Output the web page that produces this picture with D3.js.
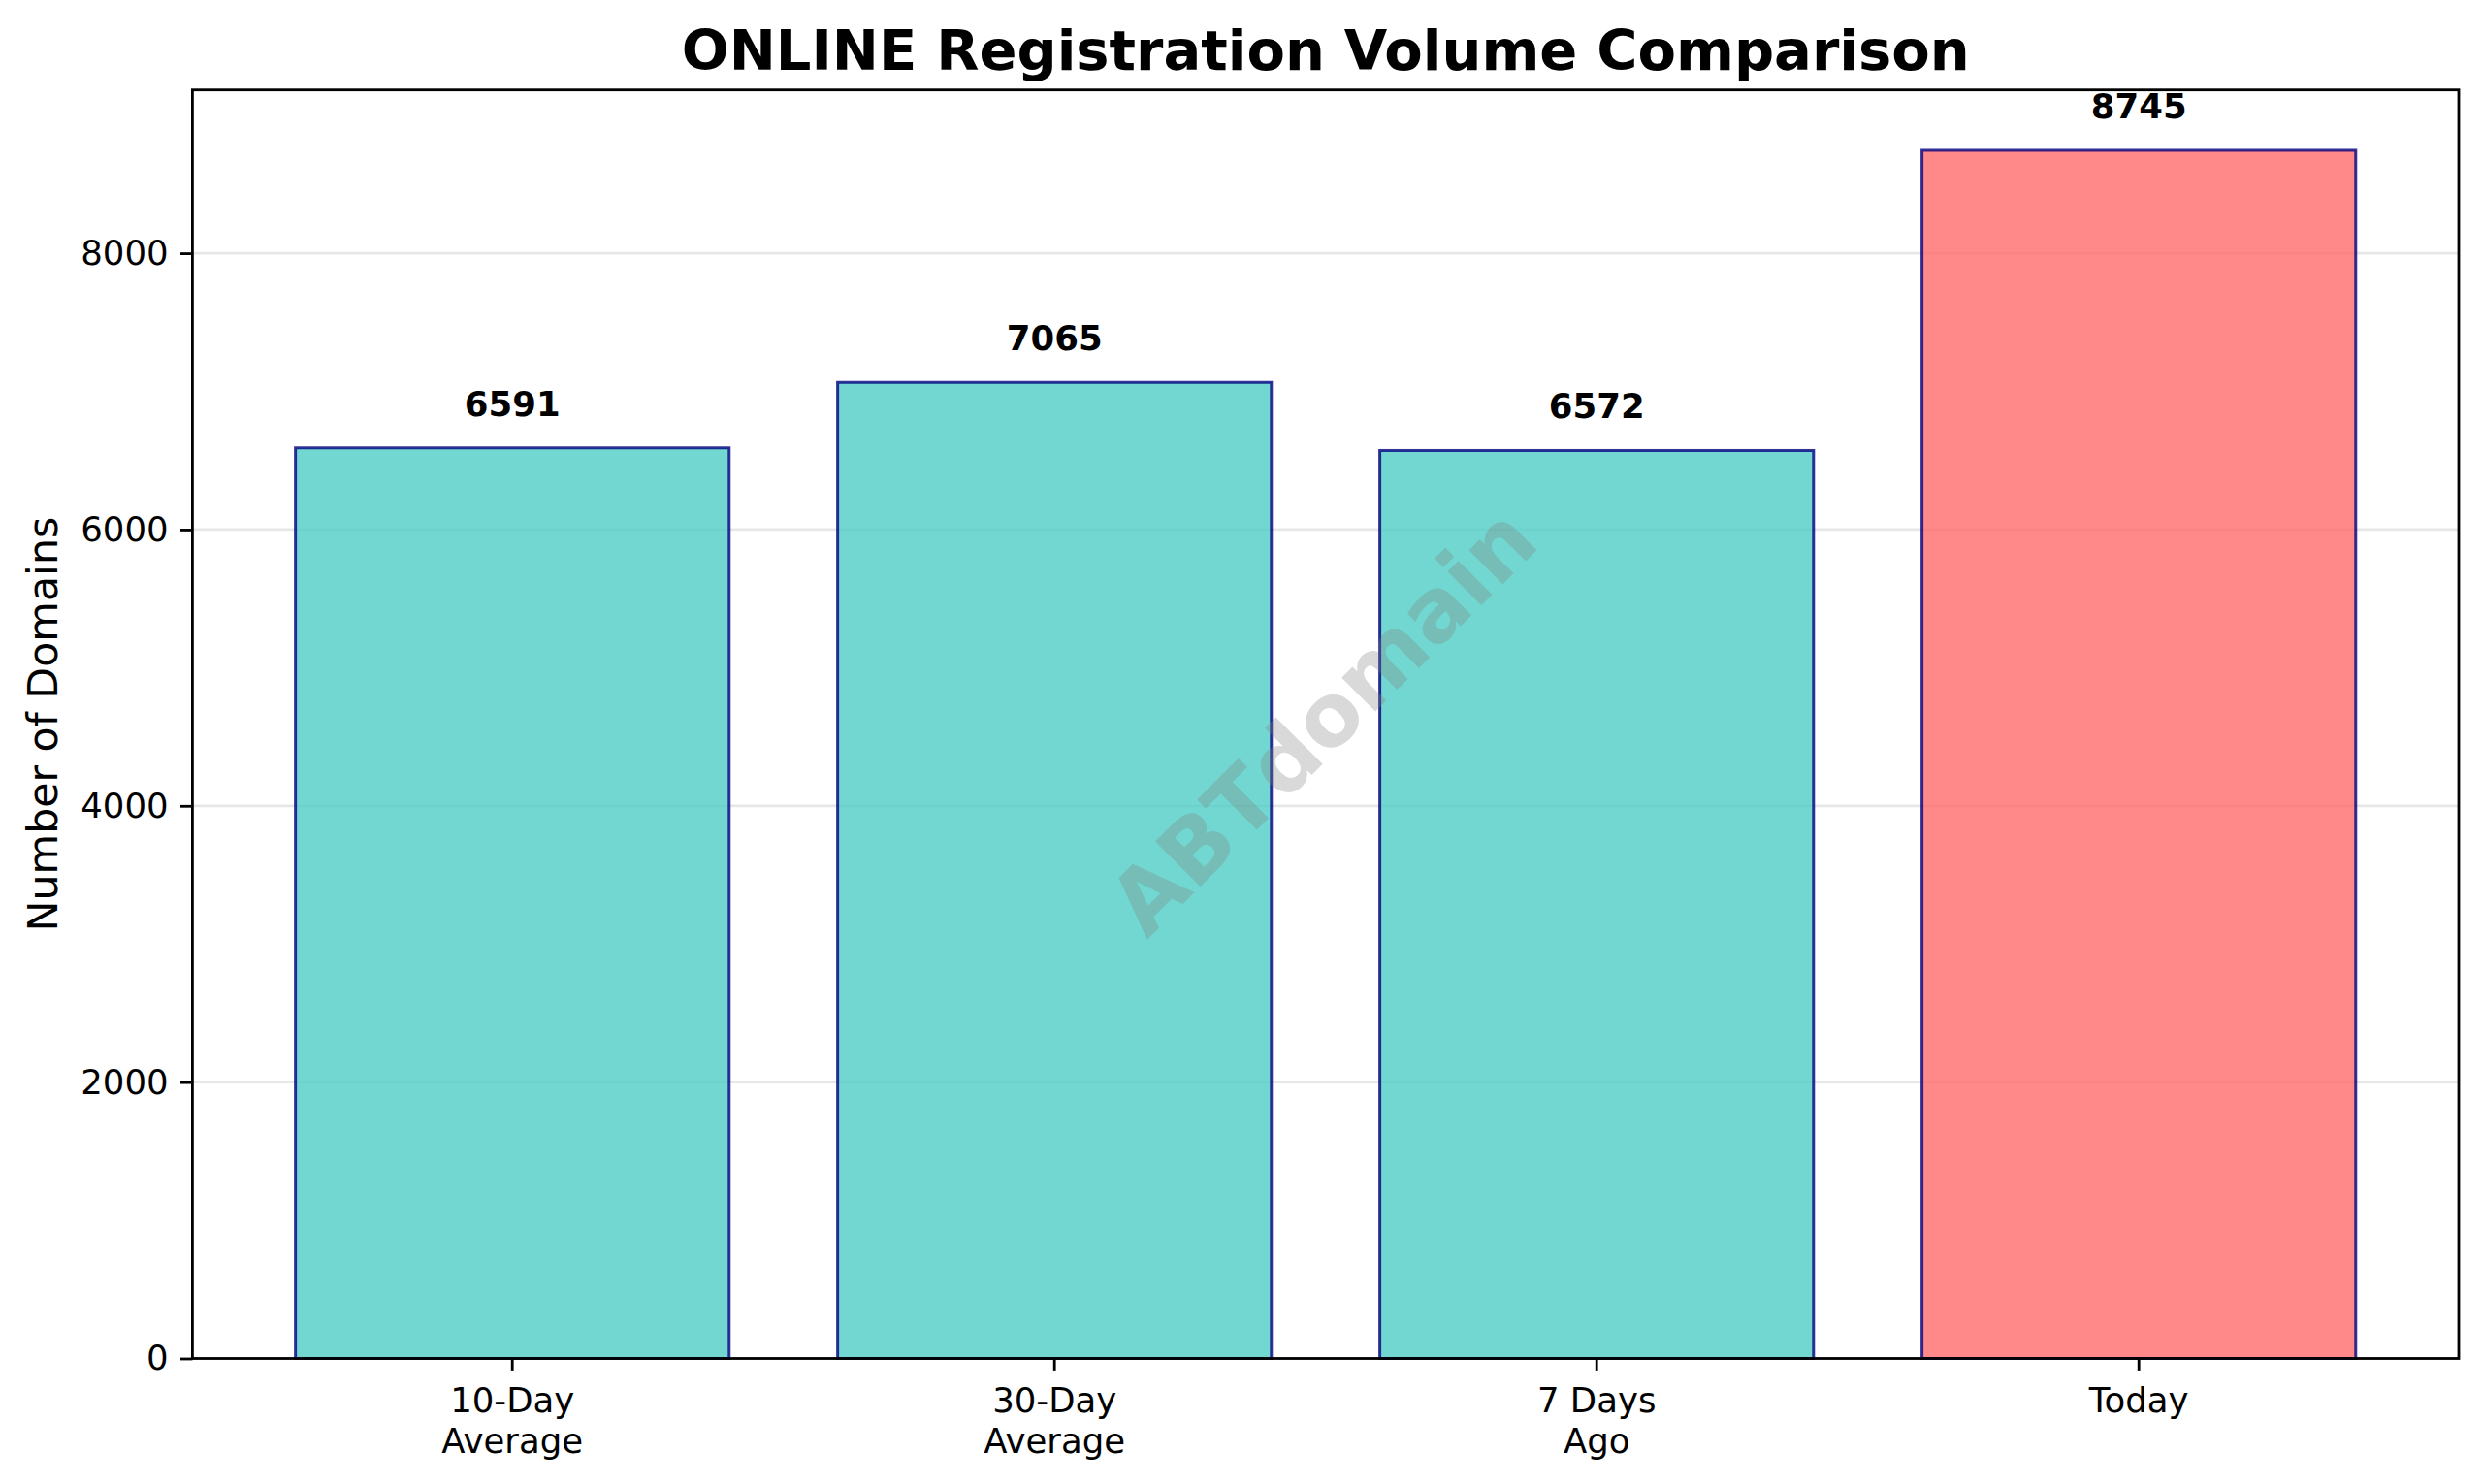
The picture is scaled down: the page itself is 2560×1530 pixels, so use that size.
<!DOCTYPE html>
<meta charset="utf-8">
<head>
  <title>ONLINE Registration Volume Comparison</title>
</head>

<style>
body { margin: 0; background: #fff; }
svg { display: block; font-family: "DejaVu Sans", sans-serif; }
</style>

<body>
  <svg width="2560" height="1530"></svg>

  <script src="https://cdnjs.cloudflare.com/ajax/libs/d3/7.8.5/d3.min.js"></script>

  <script>
// data
var categories = ['10-Day\nAverage', '30-Day\nAverage', '7 Days\nAgo', 'Today']
var volumes = [6591, 7065, 6572, 8745]
var barColors = ['#4ECDC4', '#4ECDC4', '#4ECDC4', '#FF6B6B']
var yTicks = [0, 2000, 4000, 6000, 8000]

var font = '"DejaVu Sans", sans-serif'
var plotLeft = 198.4, plotRight = 2535, plotTop = 92.7, plotBottom = 1400.5

var svg = d3.select('svg')

var x = d3.scaleBand()
  .domain(categories)
  .range([plotLeft, plotRight])
  .paddingInner(0.2)
  .paddingOuter(0.19)

var y = d3.scaleLinear()
  .domain([0, d3.max(volumes) * 1.05])
  .range([plotBottom, plotTop])

// grid
svg.append('g')
  .selectAll('line')
  .data(yTicks)
  .enter()
  .append('line')
  .attr('x1', plotLeft).attr('x2', plotRight)
  .attr('y1', d => y(d)).attr('y2', d => y(d))
  .attr('stroke', '#b0b0b0')
  .attr('stroke-opacity', 0.3)
  .attr('stroke-width', 2.8)

// bars
svg.append('g')
  .selectAll('rect')
  .data(volumes)
  .enter()
  .append('rect')
  .attr('x', (d, i) => x(categories[i]))
  .attr('y', d => y(d))
  .attr('width', x.bandwidth())
  .attr('height', d => y(0) - y(d))
  .attr('fill', (d, i) => barColors[i])
  .attr('fill-opacity', 0.8)
  .attr('stroke', 'navy')
  .attr('stroke-opacity', 0.8)
  .attr('stroke-width', 3)

// value labels
svg.append('g')
  .selectAll('text')
  .data(volumes)
  .enter()
  .append('text')
  .attr('x', (d, i) => x(categories[i]) + x.bandwidth() / 2)
  .attr('y', d => y(d) - 33)
  .attr('text-anchor', 'middle')
  .attr('font-size', 35.5)
  .attr('font-weight', 'bold')
  .text(d => d)

// watermark
svg.append('text')
  .attr('transform', 'translate(' + (plotLeft + plotRight) / 2 + ',' + (plotTop + plotBottom) / 2 + ') rotate(-45)')
  .attr('text-anchor', 'middle')
  .attr('dy', '0.3em')
  .attr('font-size', 90)
  .attr('font-weight', 'bold')
  .attr('fill', 'gray')
  .attr('fill-opacity', 0.3)
  .text('ABTdomain')

// y axis
var yAxis = svg.append('g')
  .attr('transform', 'translate(' + plotLeft + ',0)')
  .call(d3.axisLeft(y).tickValues(yTicks).tickFormat(d3.format('d')).tickSize(12.4).tickPadding(12.4))
  .attr('font-family', font)
  .attr('font-size', 35.5)
yAxis.select('.domain').remove()
yAxis.selectAll('line').attr('stroke', '#000').attr('stroke-width', 2.8)
yAxis.selectAll('text').attr('fill', '#000')

// x axis
var xAxis = svg.append('g')
  .attr('transform', 'translate(0,' + plotBottom + ')')
  .call(d3.axisBottom(x).tickSize(12.4).tickFormat(''))
  .attr('font-family', font)
  .attr('font-size', 35.5)
xAxis.select('.domain').remove()
xAxis.selectAll('line').attr('stroke', '#000').attr('stroke-width', 2.8)
xAxis.selectAll('.tick')
  .append('text')
  .attr('text-anchor', 'middle')
  .attr('fill', '#000')
  .selectAll('tspan')
  .data(d => d.split('\n'))
  .enter()
  .append('tspan')
  .attr('x', 0)
  .attr('y', (d, i) => 55 + i * 42)
  .text(d => d)

// frame
svg.append('rect')
  .attr('x', plotLeft).attr('y', plotTop)
  .attr('width', plotRight - plotLeft).attr('height', plotBottom - plotTop)
  .attr('fill', 'none')
  .attr('stroke', '#000')
  .attr('stroke-width', 2.8)

// labels
svg.append('text')
  .attr('transform', 'translate(59,' + (plotTop + plotBottom) / 2 + ') rotate(-90)')
  .attr('text-anchor', 'middle')
  .attr('font-size', 42.7)
  .text('Number of Domains')

svg.append('text')
  .attr('x', (plotLeft + plotRight) / 2)
  .attr('y', 71.7)
  .attr('text-anchor', 'middle')
  .attr('font-size', 57.5)
  .attr('font-weight', 'bold')
  .text('ONLINE Registration Volume Comparison')
  </script>
</body>
</html>
